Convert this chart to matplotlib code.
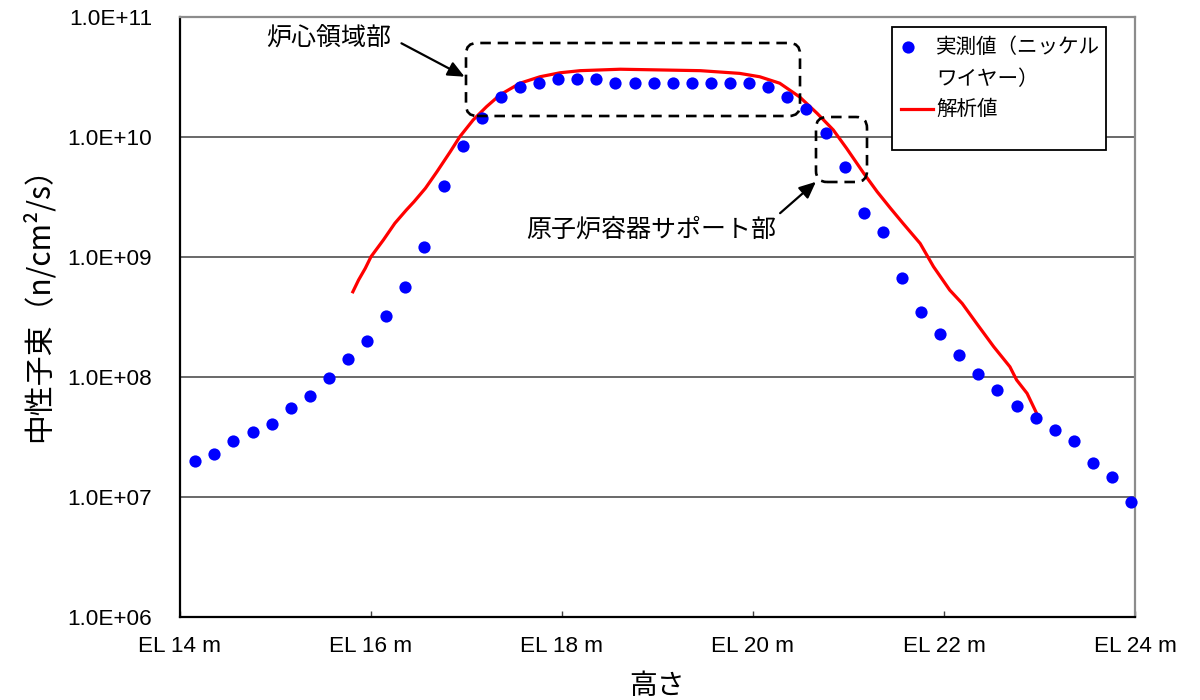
import numpy as np
import matplotlib
matplotlib.use('Agg')
import matplotlib.pyplot as plt
from matplotlib.patches import FancyBboxPatch, Rectangle
from matplotlib.lines import Line2D
from matplotlib.transforms import IdentityTransform

# ---------------- data ----------------
meas_height = [14.16, 14.36, 14.56, 14.76, 14.96, 15.16, 15.36, 15.56, 15.76, 15.96,
               16.16, 16.36, 16.56, 16.76, 16.96, 17.16, 17.36, 17.56, 17.76, 17.96,
               18.16, 18.36, 18.56, 18.76, 18.96, 19.16, 19.36, 19.56, 19.76, 19.96,
               20.16, 20.36, 20.56, 20.76, 20.96, 21.16, 21.36, 21.56, 21.76, 21.96,
               22.16, 22.36, 22.56, 22.76, 22.96, 23.16, 23.36, 23.56, 23.76, 23.96]
meas_flux = [2.0e7, 2.26e7, 2.91e7, 3.44e7, 4.06e7, 5.52e7, 6.95e7, 9.7e7, 1.41e8, 1.97e8,
             3.22e8, 5.56e8, 1.21e9, 3.91e9, 8.36e9, 1.42e10, 2.13e10, 2.58e10, 2.79e10, 3.04e10,
             3.04e10, 3.04e10, 2.79e10, 2.79e10, 2.79e10, 2.79e10, 2.79e10, 2.79e10, 2.79e10, 2.79e10,
             2.58e10, 2.13e10, 1.69e10, 1.08e10, 5.56e9, 2.33e9, 1.6e9, 6.68e8, 3.48e8, 2.26e8,
             1.51e8, 1.05e8, 7.7e7, 5.7e7, 4.57e7, 3.6e7, 2.91e7, 1.92e7, 1.47e7, 8.98e6]

calc_height = [15.81, 15.87, 15.94, 16.00, 16.13, 16.25, 16.37, 16.45, 16.57, 16.69,
               16.83, 16.93, 17.07, 17.21, 17.35, 17.56, 17.77, 17.98, 18.19, 18.61,
               19.03, 19.45, 19.86, 20.07, 20.28, 20.49, 20.67, 20.84, 20.98, 21.16,
               21.30, 21.44, 21.57, 21.75, 21.89, 22.06, 22.19, 22.34, 22.52, 22.69,
               22.76, 22.87, 22.97]
calc_flux = [5.1e8, 6.4e8, 8.0e8, 1.0e9, 1.38e9, 1.9e9, 2.45e9, 2.87e9, 3.72e9, 5.1e9,
             7.5e9, 1.0e10, 1.38e10, 1.78e10, 2.23e10, 2.79e10, 3.16e10, 3.41e10, 3.55e10, 3.65e10,
             3.6e10, 3.55e10, 3.37e10, 3.16e10, 2.79e10, 2.14e10, 1.57e10, 1.14e10, 8.0e9, 4.95e9,
             3.48e9, 2.53e9, 1.9e9, 1.29e9, 8.26e8, 5.27e8, 4.08e8, 2.79e8, 1.78e8, 1.21e8,
             9.4e7, 7.26e7, 4.95e7]

x_ticks = [14, 16, 18, 20, 22, 24]
x_tick_labels = ['EL 14 m', 'EL 16 m', 'EL 18 m', 'EL 20 m', 'EL 22 m', 'EL 24 m']
y_ticks = [1e6, 1e7, 1e8, 1e9, 1e10, 1e11]
y_tick_labels = ['1.0E+06', '1.0E+07', '1.0E+08', '1.0E+09', '1.0E+10', '1.0E+11']

label_meas_1 = '実測値（ニッケル'
label_meas_2 = 'ワイヤー）'
label_calc = '解析値'
xlabel = '高さ'
ylabel = '中性子束（n/cm²/s）'
note_core = '炉心領域部'
note_support = '原子炉容器サポート部'

# ---------------- figure ----------------
LATIN = ['Liberation Sans', 'Noto Sans CJK JP', 'DejaVu Sans']
CJK = ['Noto Sans CJK JP', 'Liberation Sans', 'DejaVu Sans']
plt.rcParams['font.family'] = LATIN

W, H = 1200, 700
fig = plt.figure(figsize=(12, 7), dpi=100)
fig.patch.set_facecolor('white')
ax = fig.add_axes([180 / W, 1 - 616.7 / H, 955 / W, 600 / H])

ax.set_yscale('log')
ax.set_xlim(14, 24)
ax.set_ylim(1e6, 1e11)

for yv in y_ticks[1:-1]:
    ax.axhline(yv, color='#404040', lw=1.1, zorder=1)

ax.plot(meas_height, meas_flux, 'o', color='#0000FF', markersize=8.8,
        markeredgewidth=0, zorder=4, clip_on=False)
ax.plot(calc_height, calc_flux, '-', color='#FF0000', lw=2.3, zorder=3)

ax.set_xticks(x_ticks)
ax.set_xticklabels(x_tick_labels, fontsize=16.2, family=LATIN)
ax.set_yticks(y_ticks)
ax.set_yticklabels(y_tick_labels, fontsize=16.2, family=LATIN)
ax.minorticks_off()
ax.tick_params(axis='x', direction='in', length=4, width=1, pad=14, color='#404040')
ax.tick_params(axis='y', length=0, pad=20)

for s in ['left', 'bottom']:
    ax.spines[s].set_color('black')
    ax.spines[s].set_linewidth(1.6)
for s in ['top', 'right']:
    ax.spines[s].set_color('#8c8c8c')
    ax.spines[s].set_linewidth(1.6)

# axis titles
fig.text(657 / W, 1 - 686 / H, xlabel, ha='center', va='center', fontsize=20, family=CJK)
fig.text(38 / W, 1 - 297 / H, ylabel, ha='center', va='center', rotation=90,
         fontsize=21.5, family=CJK)

# dashed rounded boxes (pixel layout)
def box(x0, y0, x1, y1):
    p = FancyBboxPatch((x0, H - y1), x1 - x0, y1 - y0,
                       boxstyle='round,pad=0,rounding_size=11',
                       transform=IdentityTransform(), fill=False,
                       edgecolor='black', lw=1.9, linestyle=(0, (4, 2.6)),
                       zorder=5, clip_on=False)
    fig.add_artist(p)

box(466, 43, 800, 116)
box(816, 117, 867, 182)

# annotations with arrows
fig.text(329 / W, 1 - 38 / H, note_core, ha='center', va='center', fontsize=18, family=CJK)
ax.annotate('', xy=(467, H - 78), xytext=(399, H - 42), xycoords='figure pixels',
            textcoords='figure pixels',
            arrowprops=dict(arrowstyle='-|>,head_length=1.0,head_width=0.45', color='black', lw=1.6))
fig.text(651 / W, 1 - 230 / H, note_support, ha='center', va='center', fontsize=18, family=CJK)
ax.annotate('', xy=(818, H - 180), xytext=(778, H - 215), xycoords='figure pixels',
            textcoords='figure pixels',
            arrowprops=dict(arrowstyle='-|>,head_length=1.0,head_width=0.45', color='black', lw=1.6))

# legend (manual layout)
fig.add_artist(Rectangle((892, H - 150), 214, 123, transform=IdentityTransform(),
                         facecolor='white', edgecolor='black', lw=1.3, zorder=6))
fig.add_artist(Line2D([908], [H - 47], marker='o', color='#0000FF', markersize=8.8,
                      markeredgewidth=0, transform=IdentityTransform(), zorder=7))
fig.add_artist(Line2D([901, 933], [H - 109, H - 109], color='#FF0000', lw=2.3,
                      transform=IdentityTransform(), zorder=7))
fig.text(936 / W, 1 - 47 / H, label_meas_1, ha='left', va='center', fontsize=14.8,
         family=CJK, zorder=8)
fig.text(936 / W, 1 - 79 / H, label_meas_2, ha='left', va='center', fontsize=14.8,
         family=CJK, zorder=8)
fig.text(936 / W, 1 - 109 / H, label_calc, ha='left', va='center', fontsize=14.8,
         family=CJK, zorder=8)

fig.savefig('out.png', dpi=100)
